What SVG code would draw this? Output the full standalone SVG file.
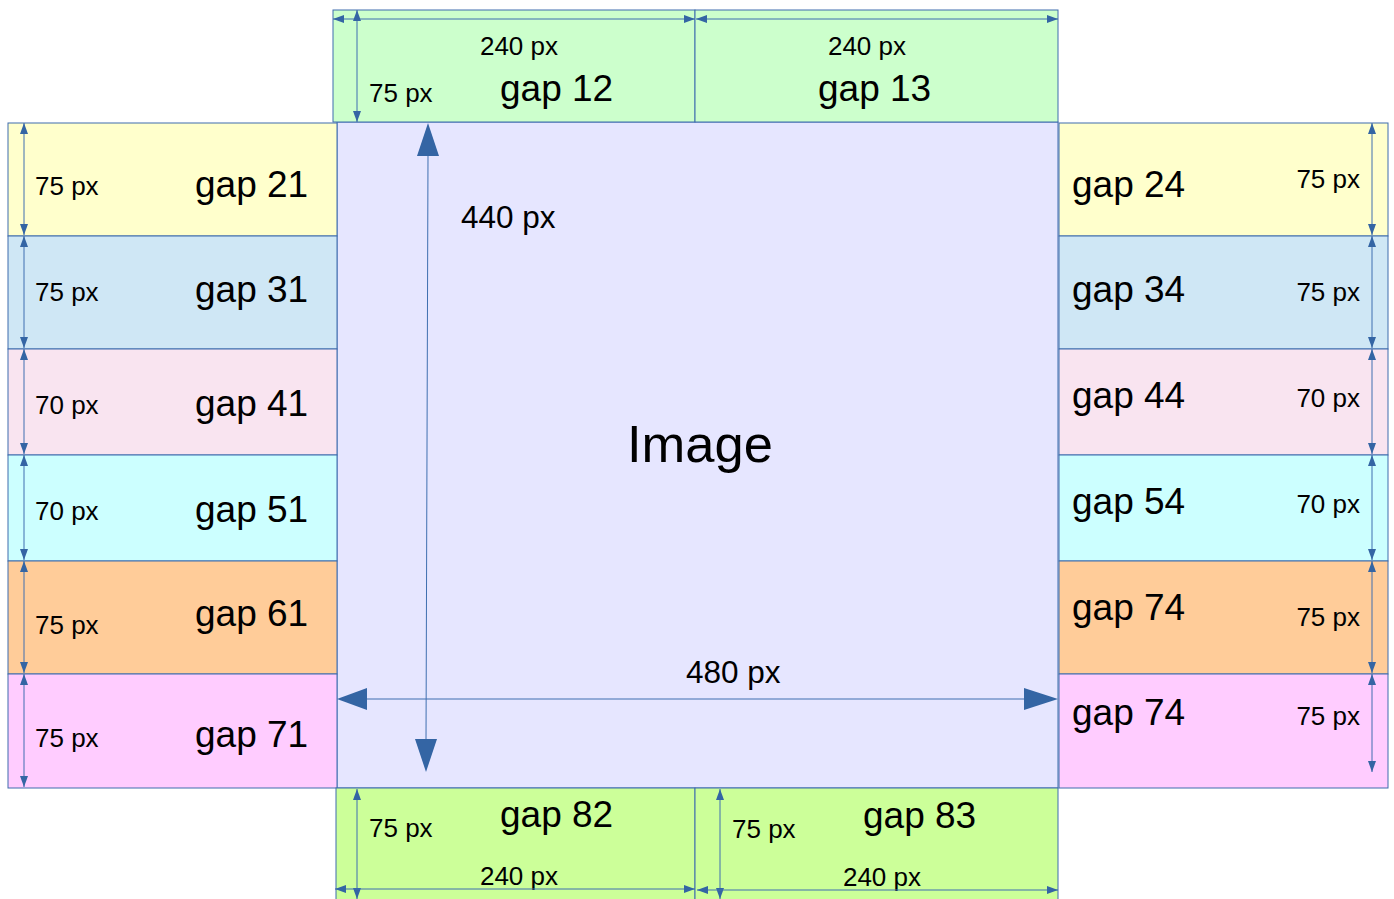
<svg xmlns="http://www.w3.org/2000/svg" width="1394" height="899" viewBox="0 0 1394 899">
<style>
.box{stroke:#3e6cad;stroke-width:1}
.t{font-family:"Liberation Sans",Arial,sans-serif;fill:#000}
.px{font-size:26px}
.gap{font-size:37px}
.big{font-size:31.5px}
.dim{stroke:#3f6fb0;stroke-width:1;fill:none;marker-start:url(#sa);marker-end:url(#sa)}
</style>
<defs>
<marker id="sa" viewBox="0 0 11 8" refX="11" refY="4" markerWidth="11" markerHeight="8" markerUnits="userSpaceOnUse" orient="auto-start-reverse">
<path d="M0,0 L11,4 L0,8 Z" fill="#3465a4"/>
</marker>
</defs>
<rect width="1394" height="899" fill="#fff"/>
<g id="image"><rect class="box" x="337" y="122" width="721" height="666" fill="#e6e6ff"/><text class="t" x="700" y="462" font-size="52.5" text-anchor="middle">Image</text></g>
<g id="gap12"><rect class="box" x="333" y="10" width="362" height="112" fill="#ccffcc"/><text class="t px" x="519" y="55" text-anchor="middle">240 px</text><text class="t px" x="369" y="102">75 px</text><text class="t gap" x="500" y="101">gap 12</text></g>
<g id="gap13"><rect class="box" x="695" y="10" width="363" height="112" fill="#ccffcc"/><text class="t px" x="867" y="55" text-anchor="middle">240 px</text><text class="t gap" x="818" y="101">gap 13</text></g>
<g id="gap21"><rect class="box" x="8" y="123" width="329" height="113" fill="#ffffcc"/><text class="t px" x="35" y="195">75 px</text><text class="t gap" x="195" y="197">gap 21</text></g>
<g id="gap31"><rect class="box" x="8" y="236" width="329" height="113" fill="#cfe7f5"/><text class="t px" x="35" y="301">75 px</text><text class="t gap" x="195" y="302">gap 31</text></g>
<g id="gap41"><rect class="box" x="8" y="349" width="329" height="106" fill="#f9e4f0"/><text class="t px" x="35" y="414">70 px</text><text class="t gap" x="195" y="416">gap 41</text></g>
<g id="gap51"><rect class="box" x="8" y="455" width="329" height="106" fill="#ccffff"/><text class="t px" x="35" y="520">70 px</text><text class="t gap" x="195" y="522">gap 51</text></g>
<g id="gap61"><rect class="box" x="8" y="561" width="329" height="113" fill="#ffcc99"/><text class="t px" x="35" y="634">75 px</text><text class="t gap" x="195" y="626">gap 61</text></g>
<g id="gap71"><rect class="box" x="8" y="674" width="329" height="114" fill="#ffccff"/><text class="t px" x="35" y="747">75 px</text><text class="t gap" x="195" y="747">gap 71</text></g>
<g id="gap24"><rect class="box" x="1059" y="123" width="329" height="113" fill="#ffffcc"/><text class="t px" x="1360" y="188" text-anchor="end">75 px</text><text class="t gap" x="1072" y="197">gap 24</text></g>
<g id="gap34"><rect class="box" x="1059" y="236" width="329" height="113" fill="#cfe7f5"/><text class="t px" x="1360" y="301" text-anchor="end">75 px</text><text class="t gap" x="1072" y="302">gap 34</text></g>
<g id="gap44"><rect class="box" x="1059" y="349" width="329" height="106" fill="#f9e4f0"/><text class="t px" x="1360" y="407" text-anchor="end">70 px</text><text class="t gap" x="1072" y="408">gap 44</text></g>
<g id="gap54"><rect class="box" x="1059" y="455" width="329" height="106" fill="#ccffff"/><text class="t px" x="1360" y="513" text-anchor="end">70 px</text><text class="t gap" x="1072" y="514">gap 54</text></g>
<g id="gap74a"><rect class="box" x="1059" y="561" width="329" height="113" fill="#ffcc99"/><text class="t px" x="1360" y="626" text-anchor="end">75 px</text><text class="t gap" x="1072" y="620">gap 74</text></g>
<g id="gap74b"><rect class="box" x="1059" y="674" width="329" height="114" fill="#ffccff"/><text class="t px" x="1360" y="725" text-anchor="end">75 px</text><text class="t gap" x="1072" y="725">gap 74</text></g>
<g id="gap82"><rect class="box" x="336" y="788" width="359" height="115" fill="#ccff99"/><text class="t px" x="369" y="837">75 px</text><text class="t gap" x="500" y="827">gap 82</text><text class="t px" x="519" y="885" text-anchor="middle">240 px</text></g>
<g id="gap83"><rect class="box" x="695" y="788" width="363" height="115" fill="#ccff99"/><text class="t px" x="732" y="838">75 px</text><text class="t gap" x="863" y="828">gap 83</text><text class="t px" x="882" y="886" text-anchor="middle">240 px</text></g>
<g id="connectors">
<line class="dim" x1="333" y1="19" x2="695" y2="19"/>
<line class="dim" x1="696" y1="19" x2="1058" y2="19"/>
<line class="dim" x1="357" y1="10" x2="357" y2="122"/>
<line class="dim" x1="24" y1="123" x2="24" y2="235"/>
<line class="dim" x1="24" y1="236" x2="24" y2="348"/>
<line class="dim" x1="24" y1="349" x2="24" y2="454"/>
<line class="dim" x1="24" y1="455" x2="24" y2="560"/>
<line class="dim" x1="24" y1="561" x2="24" y2="673"/>
<line class="dim" x1="24" y1="674" x2="24" y2="787"/>
<line class="dim" x1="1372" y1="123" x2="1372" y2="235"/>
<line class="dim" x1="1372" y1="236" x2="1372" y2="348"/>
<line class="dim" x1="1372" y1="349" x2="1372" y2="454"/>
<line class="dim" x1="1372" y1="455" x2="1372" y2="560"/>
<line class="dim" x1="1372" y1="561" x2="1372" y2="673"/>
<line class="dim" x1="1372" y1="674" x2="1372" y2="772"/>
<line class="dim" x1="357" y1="789" x2="357" y2="899"/>
<line class="dim" x1="335" y1="889" x2="695" y2="889"/>
<line class="dim" x1="720" y1="789" x2="720" y2="899"/>
<line class="dim" x1="697" y1="890" x2="1058" y2="890"/>
<line x1="366" y1="699" x2="1025" y2="699" stroke="#3f6fb0" stroke-width="1"/>
<path d="M337,699 L367,688 L367,710 Z" fill="#3465a4"/>
<path d="M1058,699 L1024,688 L1024,710 Z" fill="#3465a4"/>
<line x1="428" y1="155" x2="426" y2="740" stroke="#3f6fb0" stroke-width="1"/>
<path d="M428,123 L439,156 L417,156 Z" fill="#3465a4"/>
<path d="M426,772 L437,739 L415,739 Z" fill="#3465a4"/>
</g>
<text class="t big" x="461" y="228">440 px</text>
<text class="t big" x="686" y="683">480 px</text>
</svg>
